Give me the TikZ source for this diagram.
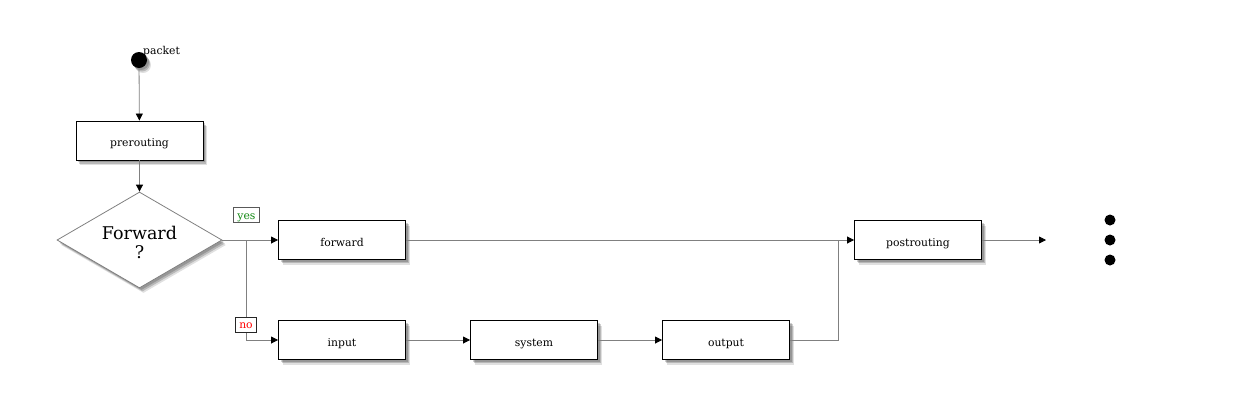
\documentclass[tikz,border=0pt]{standalone}
\usepackage{fontspec}
\setmainfont{DejaVu Serif}
\usetikzlibrary{arrows.meta,shapes.geometric,shadows,positioning}
\definecolor{lgray}{HTML}{808080}
\definecolor{yesgreen}{HTML}{118811}
\begin{document}
\begin{tikzpicture}[x=1pt,y=-1pt,
  font=\fontsize{10.8}{13}\selectfont,
  softshadow/.style={
    drop shadow={shadow xshift=2pt, shadow yshift=-2pt, fill=black, opacity=0.18},
    drop shadow={shadow xshift=3pt, shadow yshift=-3.5pt, fill=black, opacity=0.18},
    drop shadow={shadow xshift=4pt, shadow yshift=-5pt, fill=black, opacity=0.12}},
  box/.style={draw=black, fill=white, line width=0.9pt, minimum width=127pt, minimum height=39pt, inner sep=0pt,
    text height=12pt, text depth=0pt, softshadow},
  conn/.style={draw=lgray, line width=0.8pt},
  arr/.style={conn, -{Triangle[length=7pt,width=7pt,fill=black,color=black]}},
  lab/.style={line width=1pt, fill=white, inner xsep=4pt, inner ysep=0pt, minimum height=15pt, text height=8pt, text depth=0pt},
  bigdot/.style={circle, fill=black, inner sep=0pt}
]
\useasboundingbox (0,0) rectangle (1238,400);

\node[bigdot, minimum size=16pt, softshadow] (packet) at (139,60) {};
\node[anchor=base west, inner sep=0pt] (packetlab) at (143,54) {packet};

\node[box] (prerouting) at (139.5,140.5) {prerouting};
\node[diamond, draw=lgray, line width=0.8pt, fill=white, aspect=1.72, minimum width=165pt, minimum height=96pt, inner sep=0pt,
  softshadow, label={[align=center, yshift=-2.5pt, font=\fontsize{17.5}{18.7}\selectfont]center:Forward\\?}] (fwd) at (139.5,240) {};

\node[box] (forward) at (342,240) {forward};
\node[box] (input) at (342,340) {input};
\node[box] (system) at (534,340) {system};
\node[box] (output) at (726,340) {output};
\node[box] (postrouting) at (918,240) {postrouting};

\coordinate (split) at (246,240);
\coordinate (join) at (838,240);
\coordinate (end) at (1046,240);

\draw[arr] (packet) -- (prerouting);
\draw[arr] (prerouting) -- (fwd);
\draw[arr] (fwd.east) -- (forward.west);
\draw[arr] (split) |- (input.west);
\draw[arr] (forward.east) -- (postrouting.west);
\draw[arr] (input) -- (system);
\draw[arr] (system) -- (output);
\draw[conn] (output.east) -| (join);
\draw[arr] (postrouting.east) -- (end);

\node[lab, draw=black!65, text=yesgreen] (yes) at (246.5,215) {yes};
\node[lab, draw=black!85, text=red] (no) at (246,324.5) {no};

\node[bigdot, minimum size=11pt] (d1) at (1110,220) {};
\node[bigdot, minimum size=11pt] (d2) at (1110,240) {};
\node[bigdot, minimum size=11pt] (d3) at (1110,260) {};
\end{tikzpicture}
\end{document}
